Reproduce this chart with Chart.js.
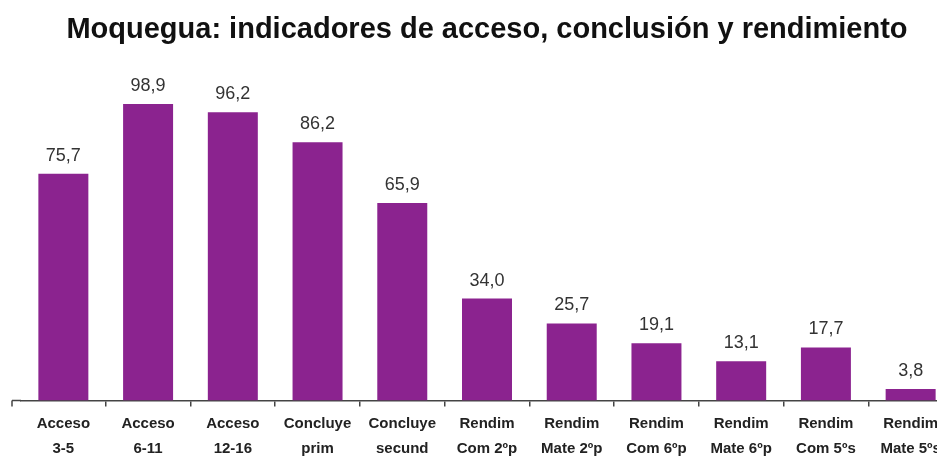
<!DOCTYPE html>
<html>
<head>
<meta charset="utf-8">
<script src="https://cdn.jsdelivr.net/npm/chart.js@4"></script>
<style>
  html, body { margin: 0; padding: 0; background: #fff; overflow: hidden; }
  #wrap { width: 972px; height: 466px; }
</style>
</head>
<body>
<div id="wrap"><canvas id="c" width="972" height="466"></canvas></div>
<script>
const chartTitle = "Moquegua: indicadores de acceso, conclusión y rendimiento";
const categories = [
  ["Acceso", "3-5"],
  ["Acceso", "6-11"],
  ["Acceso", "12-16"],
  ["Concluye", "prim"],
  ["Concluye", "secund"],
  ["Rendim", "Com 2ºp"],
  ["Rendim", "Mate 2ºp"],
  ["Rendim", "Com 6ºp"],
  ["Rendim", "Mate 6ºp"],
  ["Rendim", "Com 5ºs"],
  ["Rendim", "Mate 5ºs"]
];
const values = [75.7, 98.9, 96.2, 86.2, 65.9, 34.0, 25.7, 19.1, 13.1, 17.7, 3.8];

const AXIS_COLOR = '#444444';

const valueLabels = {
  id: 'valueLabels',
  afterDatasetsDraw(chart) {
    const ctx = chart.ctx;
    const meta = chart.getDatasetMeta(0);
    ctx.save();
    ctx.font = '18px "Liberation Sans", Arial, sans-serif';
    ctx.fillStyle = '#333333';
    ctx.textAlign = 'center';
    ctx.textBaseline = 'middle';
    meta.data.forEach((bar, i) => {
      const v = chart.data.datasets[0].data[i];
      ctx.fillText(v.toFixed(1).replace('.', ','), bar.x, bar.y - 18);
    });
    ctx.restore();
  }
};

// axis line extends a little to the left of the first category, with a tick at its end
const axisStart = {
  id: 'axisStart',
  afterDraw(chart) {
    const xs = chart.scales.x;
    const ctx = chart.ctx;
    const left = chart.chartArea.left;
    const y = xs.top;
    ctx.save();
    ctx.strokeStyle = AXIS_COLOR;
    ctx.lineWidth = 1.5;
    ctx.beginPath();
    ctx.moveTo(left - 9, y);
    ctx.lineTo(left, y);
    ctx.moveTo(left - 9, y);
    ctx.lineTo(left - 9, y + 6);
    ctx.stroke();
    ctx.restore();
  }
};

new Chart(document.getElementById('c'), {
  type: 'bar',
  data: {
    labels: categories,
    datasets: [{
      data: values,
      backgroundColor: '#8B238F',
      borderWidth: 0,
      categoryPercentage: 1.0,
      barPercentage: 0.59
    }]
  },
  options: {
    responsive: false,
    animation: false,
    layout: { padding: { left: 21, right: 19, top: 0, bottom: 0 } },
    plugins: {
      legend: { display: false },
      tooltip: { enabled: false },
      title: {
        display: true,
        text: chartTitle,
        color: '#111111',
        font: { family: '"Liberation Sans", Arial, sans-serif', size: 29, weight: 'bold', lineHeight: 1.2 },
        padding: { top: 13, bottom: 53 }
      }
    },
    scales: {
      y: {
        display: false,
        min: 0,
        max: 100
      },
      x: {
        offset: true,
        grid: {
          offset: true,
          drawOnChartArea: false,
          drawTicks: true,
          tickLength: 6,
          color: (ctx) => ctx.index === 0 ? 'rgba(0,0,0,0)' : AXIS_COLOR,
          lineWidth: 1.5
        },
        border: { display: true, color: AXIS_COLOR, width: 1.5 },
        ticks: {
          color: '#222222',
          padding: 5,
          maxRotation: 0,
          autoSkip: false,
          font: { family: '"Liberation Sans", Arial, sans-serif', size: 15, weight: 'bold', lineHeight: 1.65 }
        }
      }
    }
  },
  plugins: [valueLabels, axisStart]
});
</script>
</body>
</html>
